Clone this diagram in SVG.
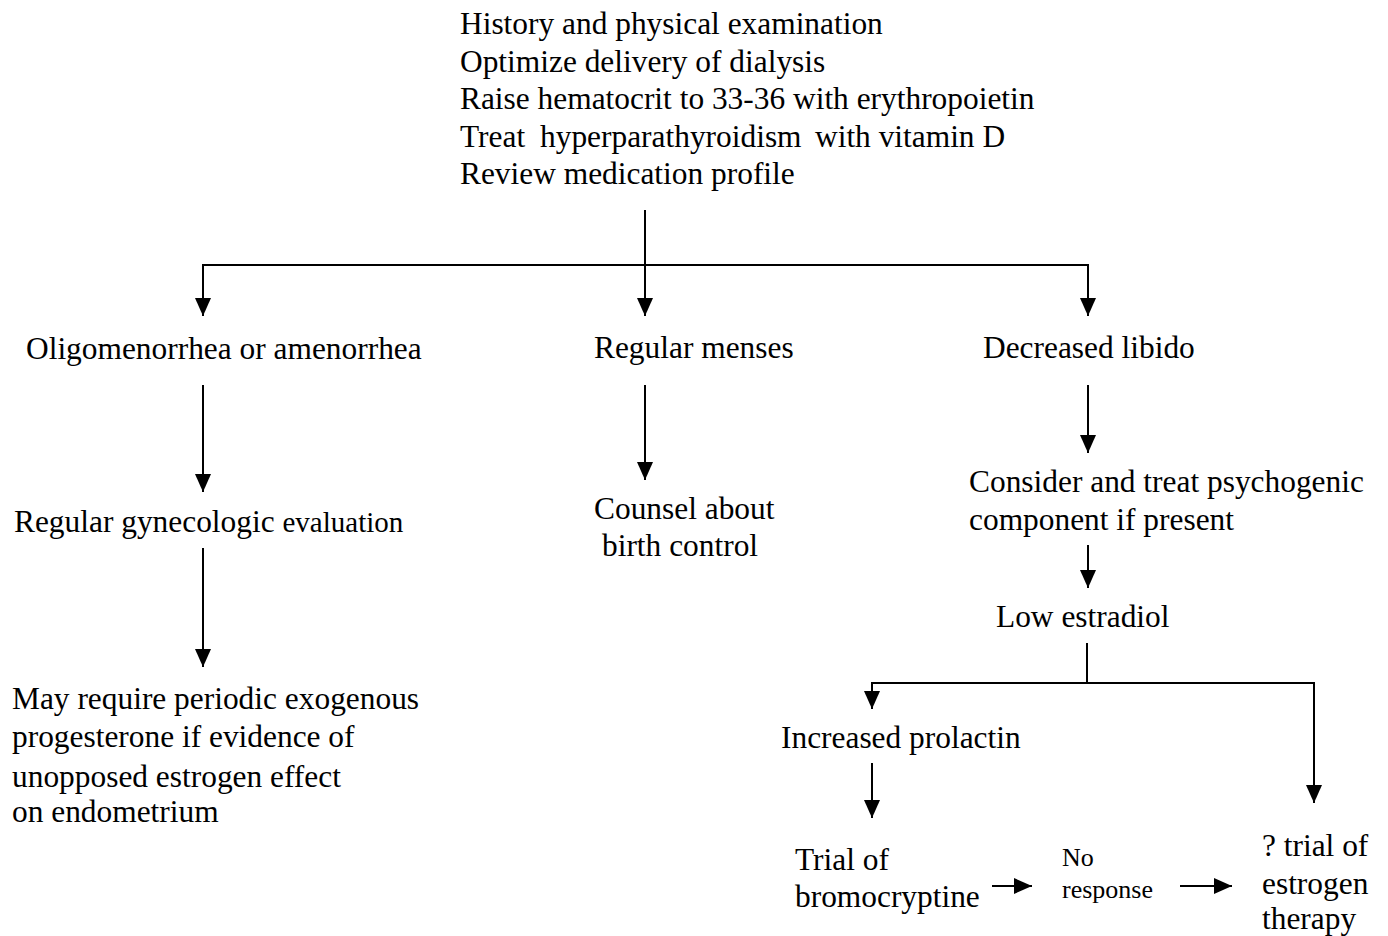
<svg xmlns="http://www.w3.org/2000/svg" width="1388" height="936" viewBox="0 0 1388 936">
<style>
text{font-family:"Liberation Serif","Times New Roman",serif;font-size:31.4px;fill:#000}
.sm{font-size:26px}
.ln{stroke:#000;stroke-width:2;fill:none}
</style>
<defs>
<marker id="ah" markerUnits="userSpaceOnUse" markerWidth="20" markerHeight="20" viewBox="0 0 20 20" refX="18" refY="10" orient="auto">
<path d="M0,2 L18,10 L0,18 Z" fill="#000"/>
</marker>
</defs>
<rect width="1388" height="936" fill="#fff"/>
<g id="connectors">
<line class="ln" x1="645" y1="210" x2="645" y2="316" marker-end="url(#ah)"/>
<polyline class="ln" points="203,300 203,265 1088,265 1088,300"/>
<line class="ln" x1="203" y1="265" x2="203" y2="316" marker-end="url(#ah)"/>
<line class="ln" x1="1088" y1="265" x2="1088" y2="316" marker-end="url(#ah)"/>
<line class="ln" x1="203" y1="385" x2="203" y2="492" marker-end="url(#ah)"/>
<line class="ln" x1="203" y1="548" x2="203" y2="667" marker-end="url(#ah)"/>
<line class="ln" x1="645" y1="385" x2="645" y2="480" marker-end="url(#ah)"/>
<line class="ln" x1="1088" y1="385" x2="1088" y2="453" marker-end="url(#ah)"/>
<line class="ln" x1="1088" y1="545" x2="1088" y2="588" marker-end="url(#ah)"/>
<polyline class="ln" points="1087,643 1087,683 872,683 872,695"/>
<line class="ln" x1="872" y1="683" x2="872" y2="709" marker-end="url(#ah)"/>
<polyline class="ln" points="1087,683 1314,683 1314,790"/>
<line class="ln" x1="1314" y1="683" x2="1314" y2="803" marker-end="url(#ah)"/>
<line class="ln" x1="872" y1="763" x2="872" y2="818" marker-end="url(#ah)"/>
<line class="ln" x1="992" y1="886" x2="1032" y2="886" marker-end="url(#ah)"/>
<line class="ln" x1="1180" y1="886" x2="1232" y2="886" marker-end="url(#ah)"/>
</g>
<g id="top">
<text x="460" y="34">History and physical examination</text>
<text x="460" y="72">Optimize delivery of dialysis</text>
<text x="460" y="109">Raise hematocrit to 33-36 with erythropoietin</text>
<text x="460" y="147">Treat<tspan x="540">hyperparathyroidism</tspan><tspan x="815">with vitamin D</tspan></text>
<text x="460" y="184">Review medication profile</text>
</g>
<g id="oligo"><text x="26" y="359">Oligomenorrhea or amenorrhea</text></g>
<g id="regular"><text x="594" y="358">Regular menses</text></g>
<g id="libido"><text x="983" y="358">Decreased libido</text></g>
<g id="gyn"><text x="14" y="532">Regular gynecologic <tspan style="font-size:29px">evaluation</tspan></text></g>
<g id="progesterone">
<text x="12" y="709">May require periodic exogenous</text>
<text x="12" y="747">progesterone if evidence of</text>
<text x="12" y="787">unopposed estrogen effect</text>
<text x="12" y="822">on endometrium</text>
</g>
<g id="counsel">
<text x="594" y="519">Counsel about</text>
<text x="602" y="556">birth control</text>
</g>
<g id="psych">
<text x="969" y="492">Consider and treat psychogenic</text>
<text x="969" y="530">component if present</text>
</g>
<g id="estradiol"><text x="996" y="627">Low estradiol</text></g>
<g id="prolactin"><text x="781" y="748">Increased prolactin</text></g>
<g id="bromo">
<text x="795" y="870">Trial of</text>
<text x="795" y="907">bromocryptine</text>
</g>
<g id="noresp">
<text class="sm" x="1062" y="866">No</text>
<text class="sm" x="1062" y="898">response</text>
</g>
<g id="estrogen">
<text x="1262" y="856">? trial of</text>
<text x="1262" y="894">estrogen</text>
<text x="1262" y="929">therapy</text>
</g>
</svg>
